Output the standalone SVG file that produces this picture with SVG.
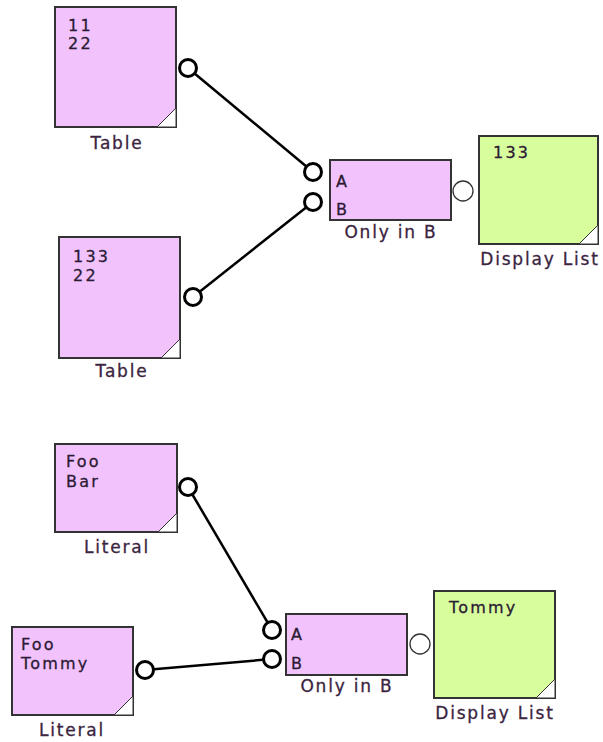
<svg xmlns="http://www.w3.org/2000/svg" width="603" height="742" viewBox="0 0 603 742">
<style>
.pink{fill:#f2c2fd;stroke:#333;stroke-width:2}
.green{fill:#d8fd9c;stroke:#333;stroke-width:2}
.corner{fill:#fff;stroke:#333;stroke-width:1}
.txt{font-family:"DejaVu Sans",Verdana,sans-serif;font-size:16px;letter-spacing:2.2px;fill:#2b1a33;stroke:#2b1a33;stroke-width:0.3}
.lbl{font-family:"DejaVu Sans",Verdana,sans-serif;font-size:17px;letter-spacing:1.8px;fill:#3b2440;stroke:#3b2440;stroke-width:0.3;text-anchor:middle}
.port{fill:#fff;stroke:#000;stroke-width:3}
.oport{fill:#fff;stroke:#333;stroke-width:1.3}
.wire{stroke:#000;stroke-width:2.5;fill:none}
</style>
<rect width="603" height="742" fill="#fff"/>
<g id="connectors">
<line class="wire" x1="188" y1="68" x2="313" y2="172"/>
<line class="wire" x1="193" y1="297" x2="313" y2="202"/>
<line class="wire" x1="188" y1="487" x2="272" y2="630"/>
<line class="wire" x1="145" y1="670" x2="272" y2="659"/>
</g>
<g id="table1">
<rect class="pink" x="55" y="7" width="121" height="120"/>
<path class="corner" d="M157 127 L176 108 L176 127 Z"/>
<text class="txt" x="68" y="31">11</text>
<text class="txt" x="68" y="49">22</text>
<text class="lbl" x="117" y="149">Table</text>
<circle class="port" cx="188" cy="68" r="8.5"/>
</g>
<g id="table2">
<rect class="pink" x="59" y="237" width="121" height="121"/>
<path class="corner" d="M161 358 L180 339 L180 358 Z"/>
<text class="txt" x="73" y="262">133</text>
<text class="txt" x="73" y="281">22</text>
<text class="lbl" x="122" y="377">Table</text>
<circle class="port" cx="193" cy="297" r="8.5"/>
</g>
<g id="onlyinb1">
<rect class="pink" x="330" y="160" width="121" height="60"/>
<text class="txt" x="336" y="187">A</text>
<text class="txt" x="336" y="215">B</text>
<text class="lbl" x="391" y="238">Only in B</text>
<circle class="port" cx="313" cy="172" r="8.5"/>
<circle class="port" cx="313" cy="202" r="8.5"/>
<circle class="oport" cx="463" cy="191" r="10"/>
</g>
<g id="display1">
<rect class="green" x="479" y="136" width="119" height="108"/>
<path class="corner" d="M579 244 L598 225 L598 244 Z"/>
<text class="txt" x="493" y="158">133</text>
<text class="lbl" x="540" y="265">Display List</text>
</g>
<g id="literal1">
<rect class="pink" x="55" y="444" width="122" height="88"/>
<path class="corner" d="M158 532 L177 513 L177 532 Z"/>
<text class="txt" x="66" y="467">Foo</text>
<text class="txt" x="66" y="487">Bar</text>
<text class="lbl" x="117" y="553">Literal</text>
<circle class="port" cx="188" cy="487" r="8.5"/>
</g>
<g id="literal2">
<rect class="pink" x="12" y="627" width="121" height="88"/>
<path class="corner" d="M114 715 L133 696 L133 715 Z"/>
<text class="txt" x="21" y="650">Foo</text>
<text class="txt" x="21" y="669">Tommy</text>
<text class="lbl" x="72" y="736">Literal</text>
<circle class="port" cx="145" cy="670" r="8.5"/>
</g>
<g id="onlyinb2">
<rect class="pink" x="286" y="614" width="121" height="61"/>
<text class="txt" x="291" y="640">A</text>
<text class="txt" x="291" y="669">B</text>
<text class="lbl" x="347" y="692">Only in B</text>
<circle class="port" cx="272" cy="630" r="8.5"/>
<circle class="port" cx="272" cy="659" r="8.5"/>
<circle class="oport" cx="420" cy="644" r="10"/>
</g>
<g id="display2">
<rect class="green" x="434" y="591" width="121" height="107"/>
<path class="corner" d="M536 698 L555 679 L555 698 Z"/>
<text class="txt" x="449" y="613">Tommy</text>
<text class="lbl" x="495" y="719">Display List</text>
</g>
</svg>
